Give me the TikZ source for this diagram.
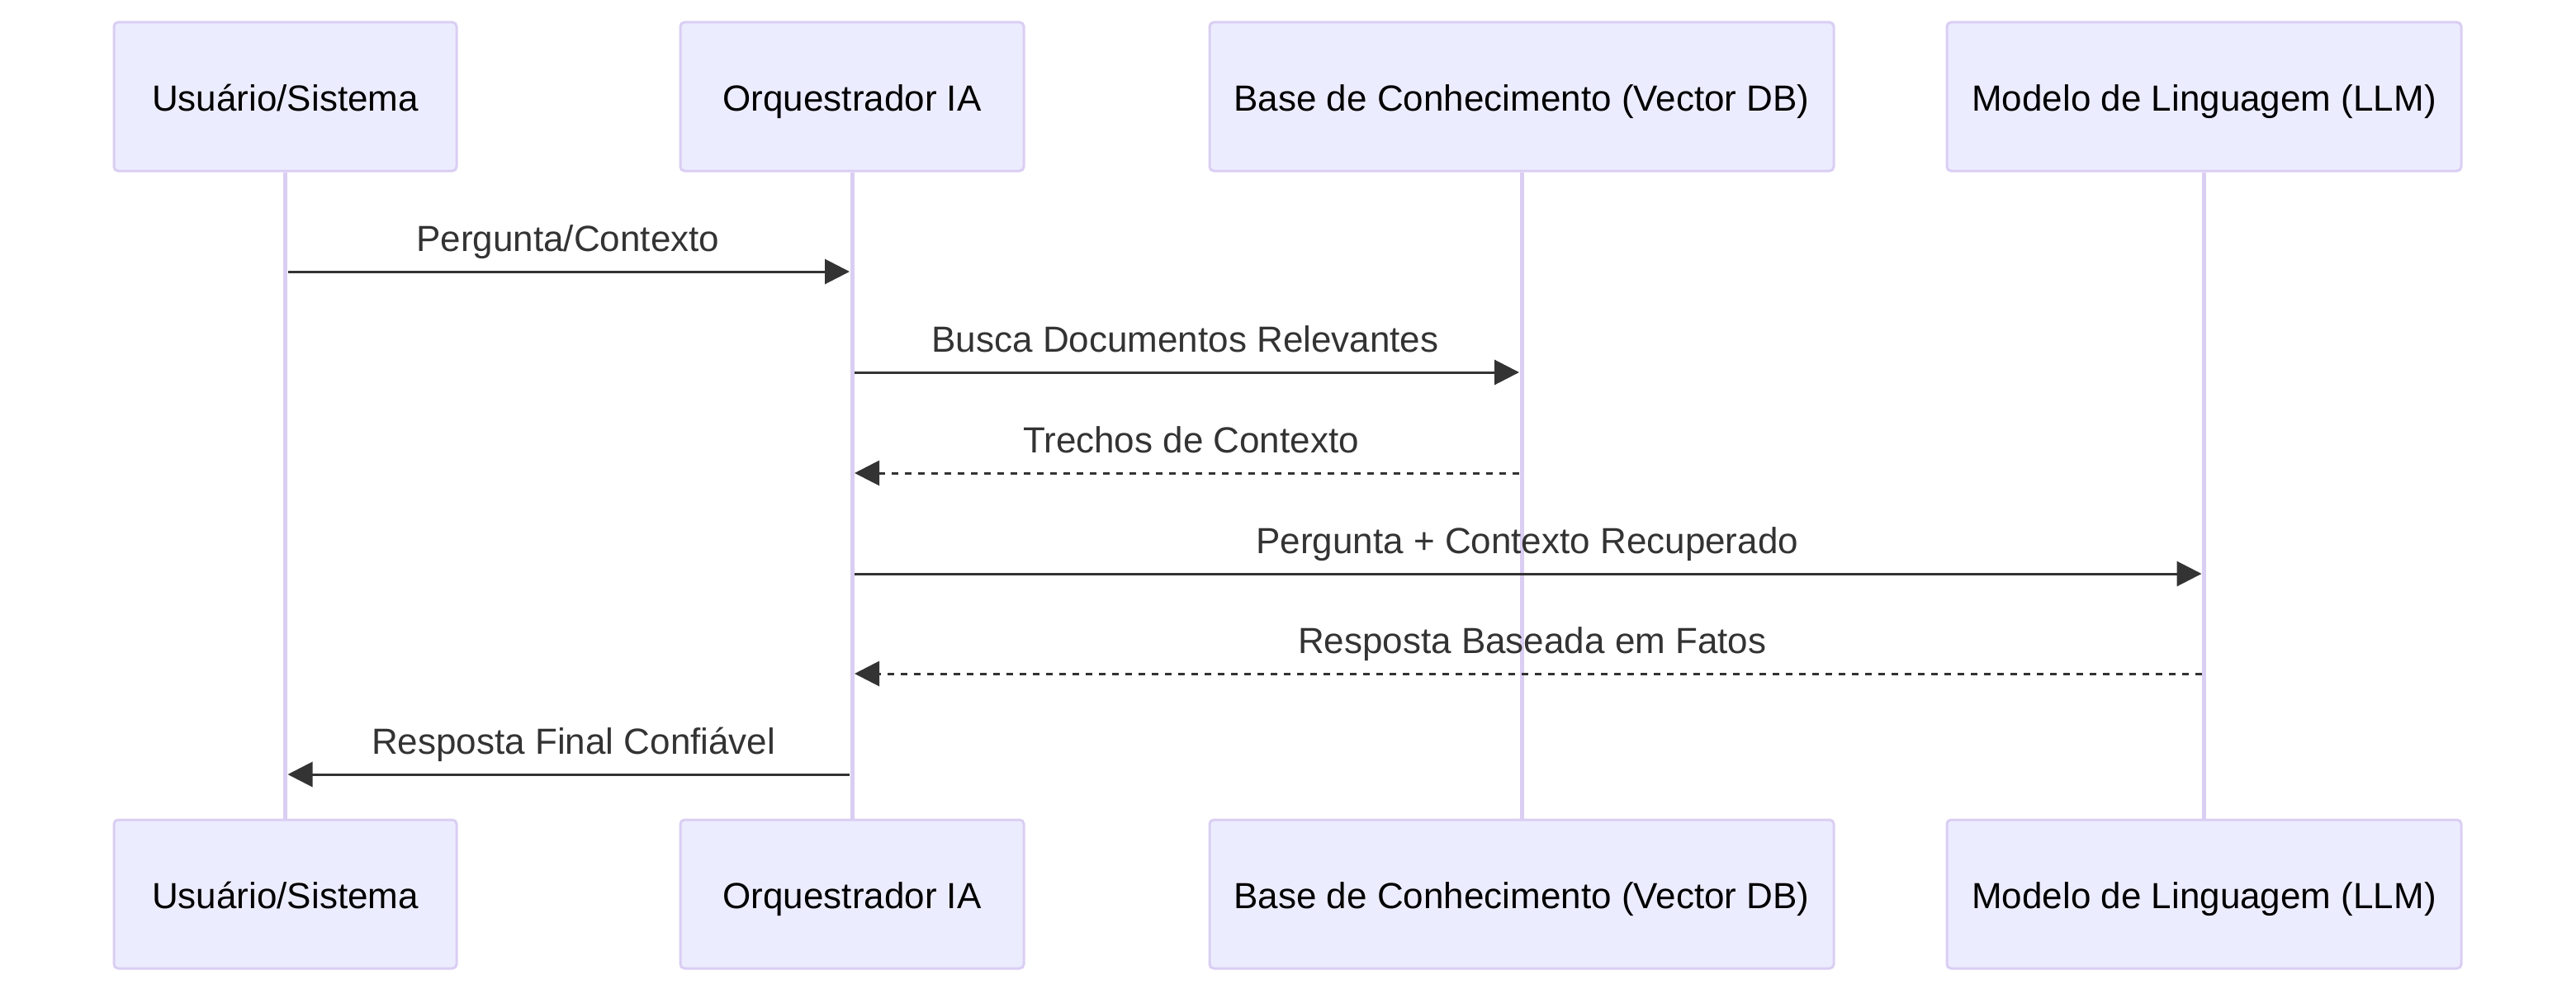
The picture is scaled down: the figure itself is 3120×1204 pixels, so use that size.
\documentclass[tikz,border=0pt]{standalone}
\usepackage{fontspec}
\setmainfont{Liberation Sans}
\usetikzlibrary{arrows.meta,calc}
\definecolor{actfill}{HTML}{ECECFF}
\definecolor{actline}{HTML}{DACEF3}
\definecolor{msgcol}{HTML}{333333}
\tikzset{
  actor/.style={draw=actline, line width=1.5pt, fill=actfill, rounded corners=2.5pt,
    minimum height=90pt, inner sep=0pt, text=black,
    font=\fontsize{22pt}{26pt}\selectfont, text height=20pt, text depth=3pt},
  lifeline/.style={draw=actline, line width=2.5pt},
  msg/.style={draw=msgcol, line width=1.5pt, -{Triangle[length=15pt,width=15pt]}, shorten >=1.5pt, shorten <=1.5pt},
  reply/.style={msg, dash pattern=on 4pt off 4pt},
  lbl/.style={anchor=base, inner sep=0pt, text=msgcol, font=\fontsize{22pt}{26pt}\selectfont}
}
\begin{document}
\begin{tikzpicture}[x=0.5pt,y=-0.5pt]
\useasboundingbox (0,0) rectangle (3120,1204);
% top actors
\node[actor, minimum width=207.5pt] (ut) at (345.5,117) {Usuário/Sistema};
\node[actor, minimum width=208pt] (ot) at (1032,117) {Orquestrador IA};
\node[actor, minimum width=378pt] (bt) at (1843,117) {Base de Conhecimento (Vector DB)};
\node[actor, minimum width=311.5pt] (mt) at (2669.5,117) {Modelo de Linguagem (LLM)};
% bottom actors
\node[actor, minimum width=207.5pt] (ub) at (345.5,1083) {Usuário/Sistema};
\node[actor, minimum width=208pt] (ob) at (1032,1083) {Orquestrador IA};
\node[actor, minimum width=378pt] (bb) at (1843,1083) {Base de Conhecimento (Vector DB)};
\node[actor, minimum width=311.5pt] (mb) at (2669.5,1083) {Modelo de Linguagem (LLM)};
% lifelines
\draw[lifeline] (ut.south) -- (ub.north);
\draw[lifeline] (ot.south) -- (ob.north);
\draw[lifeline] (bt.south) -- (bb.north);
\draw[lifeline] (mt.south) -- (mb.north);
% message rows
\coordinate (y1) at (0,329);
\coordinate (y2) at (0,451);
\coordinate (y3) at (0,573);
\coordinate (y4) at (0,695);
\coordinate (y5) at (0,816);
\coordinate (y6) at (0,938);
% messages
\draw[msg] (ut |- y1) -- (ot |- y1);
\node[lbl] (l1) at ($(ut |- y1)!0.5!(ot |- y1) + (-1,-25)$) {Pergunta/Contexto};
\draw[msg] (ot |- y2) -- (bt |- y2);
\node[lbl] (l2) at ($(ot |- y2)!0.5!(bt |- y2) + (-2,-25)$) {Busca Documentos Relevantes};
\draw[reply] (bt |- y3) -- (ot |- y3);
\node[lbl] (l3) at ($(ot |- y3)!0.5!(bt |- y3) + (5,-25)$) {Trechos de Contexto};
\draw[msg] (ot |- y4) -- (mt |- y4);
\node[lbl] (l4) at ($(ot |- y4)!0.5!(mt |- y4) + (-1,-25)$) {Pergunta + Contexto Recuperado};
\draw[reply] (mt |- y5) -- (ot |- y5);
\node[lbl] (l5) at ($(ot |- y5)!0.5!(mt |- y5) + (5,-25)$) {Resposta Baseada em Fatos};
\draw[msg] (ot |- y6) -- (ut |- y6);
\node[lbl] (l6) at ($(ut |- y6)!0.5!(ot |- y6) + (6,-25)$) {Resposta Final Confiável};
\end{tikzpicture}
\end{document}
